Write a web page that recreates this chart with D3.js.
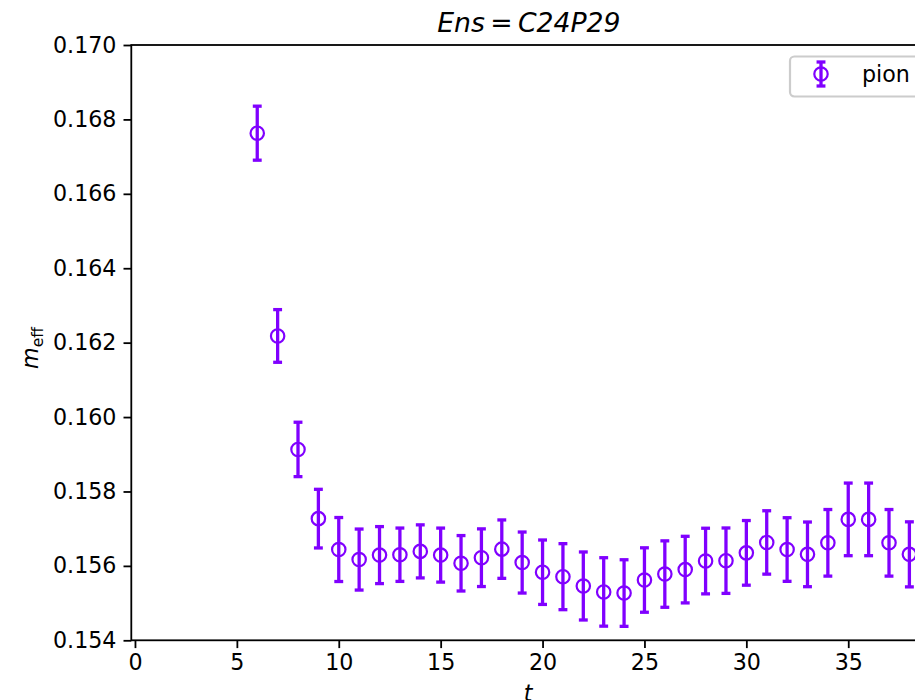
<!DOCTYPE html>
<html>
<head>
<meta charset="utf-8">
<script src="https://cdn.jsdelivr.net/npm/d3@7"></script>
<style>
  body { margin: 0; background: #fff; }
  svg { display: block; font-family: "DejaVu Sans", sans-serif; }
</style>
</head>
<body>
<svg></svg>
<script>
// effective mass data
const tVals = [6, 7, 8, 9, 10, 11, 12, 13, 14, 15, 16, 17, 18, 19, 20, 21, 22,
    23, 24, 25, 26, 27, 28, 29, 30, 31, 32, 33, 34, 35, 36, 37, 38];
const meff = [0.16763, 0.16218, 0.15913, 0.15727, 0.15644, 0.15617, 0.15629,
    0.15630, 0.15639, 0.15629, 0.15607, 0.15622, 0.15645, 0.15609, 0.15583,
    0.15571, 0.15546, 0.15530, 0.15527, 0.15562, 0.15578, 0.15590, 0.15613,
    0.15614, 0.15635, 0.15663, 0.15644, 0.15631, 0.15662, 0.15725, 0.15725,
    0.15662, 0.15631];
const meffErr = [0.000726, 0.000708, 0.000731, 0.000788, 0.00086, 0.00082,
    0.000766, 0.000717, 0.000713, 0.000726, 0.000745, 0.000775, 0.000785,
    0.00082, 0.000866, 0.000887, 0.000914, 0.00092, 0.000895, 0.000866,
    0.000893, 0.000895, 0.000882, 0.000879, 0.000869, 0.000852, 0.000855,
    0.000869, 0.000895, 0.000976, 0.000976, 0.000895, 0.000874];
const xTicks = [0, 5, 10, 15, 20, 25, 30, 35];
const yTicks = [0.154, 0.156, 0.158, 0.160, 0.162, 0.164, 0.166, 0.168, 0.170];

const size = {w: 915, h: 700};
const plot = {l: 131.3, r: 926.5, t: 45, b: 640.3};
const color = '#8000ff';
const lw = 1.8;       // spine / tick width
const fs = 22.2;      // tick label size

const svg = d3.select('svg')
    .attr('width', size.w)
    .attr('height', size.h);

let x = d3.scaleLinear().domain([-0.18, 38.84]).range([plot.l, plot.r]);
let y = d3.scaleLinear().domain([0.154, 0.170]).range([plot.b, plot.t]);

// axes
let xAxis = svg.append('g')
    .attr('transform', `translate(0,${plot.b})`)
    .call(d3.axisBottom(x).tickValues(xTicks).tickSize(7.8).tickPadding(6).tickFormat(d3.format('d')));
let yAxis = svg.append('g')
    .attr('transform', `translate(${plot.l},0)`)
    .call(d3.axisLeft(y).tickValues(yTicks).tickSize(7.8).tickPadding(7).tickFormat(d3.format('.3f')));

[xAxis, yAxis].forEach(g => {
    g.select('.domain').remove();
    g.selectAll('.tick line').attr('stroke', '#000').attr('stroke-width', lw);
    g.selectAll('.tick text').attr('fill', '#000').style('font-size', fs + 'px')
        .style('font-family', '"DejaVu Sans", sans-serif');
});

// spines
svg.append('rect')
    .attr('x', plot.l).attr('y', plot.t)
    .attr('width', plot.r - plot.l).attr('height', plot.b - plot.t)
    .attr('fill', 'none').attr('stroke', '#000').attr('stroke-width', lw);

// error bars
const capHalf = 4.45;
let bars = svg.append('g').selectAll('g')
    .data(tVals.map((t, i) => ({t: t, v: meff[i], e: meffErr[i]})))
    .join('g');

bars.append('line')
    .attr('x1', d => x(d.t)).attr('x2', d => x(d.t))
    .attr('y1', d => y(d.v - d.e)).attr('y2', d => y(d.v + d.e))
    .attr('stroke', color).attr('stroke-width', 3.3);

bars.selectAll('.cap')
    .data(d => [d.v - d.e, d.v + d.e].map(v => ({t: d.t, v: v})))
    .join('line')
    .attr('class', 'cap')
    .attr('x1', d => x(d.t) - capHalf).attr('x2', d => x(d.t) + capHalf)
    .attr('y1', d => y(d.v)).attr('y2', d => y(d.v))
    .attr('stroke', color).attr('stroke-width', 3.3);

bars.append('circle')
    .attr('cx', d => x(d.t)).attr('cy', d => y(d.v))
    .attr('r', 6.7)
    .attr('fill', 'none').attr('stroke', color).attr('stroke-width', 2.2);

// title
svg.append('text')
    .attr('x', (plot.l + plot.r) / 2).attr('y', 31.5)
    .attr('text-anchor', 'middle')
    .style('font-size', '26.7px').style('font-style', 'italic')
    .text('Ens\u2009=\u2009C24P29');

// axis labels
svg.append('text')
    .attr('x', 528).attr('y', 701)
    .attr('text-anchor', 'middle')
    .style('font-size', fs + 'px').style('font-style', 'italic')
    .text('t');

let yl = svg.append('text')
    .attr('transform', 'translate(38,348) rotate(-90)')
    .attr('text-anchor', 'middle')
    .style('font-size', fs + 'px');
yl.append('tspan').style('font-style', 'italic').text('m');
yl.append('tspan').attr('dy', 4.5).style('font-size', '15.5px').text('eff');

// legend
let leg = svg.append('g');
leg.append('rect')
    .attr('x', 790).attr('y', 56.5).attr('width', 138).attr('height', 40)
    .attr('rx', 4.4)
    .attr('fill', 'rgba(255,255,255,0.8)').attr('stroke', '#cccccc').attr('stroke-width', 2.2);
const lx = 821, ly = 74;
leg.append('line')
    .attr('x1', lx).attr('x2', lx).attr('y1', ly - 12).attr('y2', ly + 12)
    .attr('stroke', color).attr('stroke-width', 3.3);
[ly - 12, ly + 12].forEach(cy => {
    leg.append('line')
        .attr('x1', lx - capHalf).attr('x2', lx + capHalf).attr('y1', cy).attr('y2', cy)
        .attr('stroke', color).attr('stroke-width', 3.3);
});
leg.append('circle')
    .attr('cx', lx).attr('cy', ly).attr('r', 6.7)
    .attr('fill', 'none').attr('stroke', color).attr('stroke-width', 2.2);
leg.append('text')
    .attr('x', 862).attr('y', 82)
    .style('font-size', fs + 'px')
    .text('pion');
</script>
</body>
</html>
